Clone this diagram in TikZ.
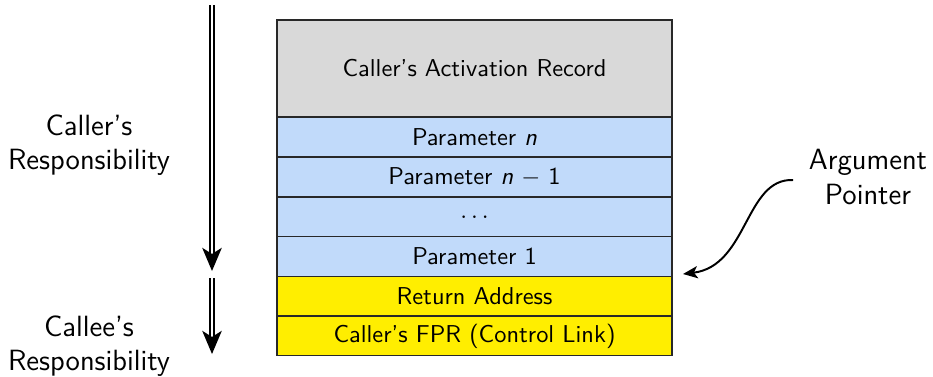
\documentclass[tikz,border=0pt]{standalone}
\usepackage{fontspec}
\usetikzlibrary{arrows.meta}
\definecolor{recgray}{RGB}{217,217,217}
\definecolor{parblue}{RGB}{193,218,250}
\definecolor{retyellow}{RGB}{255,238,0}
\definecolor{edgegray}{RGB}{40,40,40}
\tikzset{
  cell/.style={draw=edgegray, line width=0.45pt, rectangle, inner sep=0pt, outer sep=0pt,
    minimum width=395*0.41pt, minimum height=39.7*0.41pt, font=\sffamily},
  bluecell/.style={cell, fill=parblue},
  yellowcell/.style={cell, fill=retyellow},
  sidelabel/.style={align=center, font=\sffamily\large, inner sep=0pt},
  resparrow/.style={draw, double, double distance=1.1pt, line width=0.7pt,
    -{Stealth[length=9.5pt, width=8pt, inset=2.5pt]}},
}
\begin{document}
\begin{tikzpicture}[x=0.41pt, y=-0.41pt]
\useasboundingbox (0,0) rectangle (933,376);
% stack
\node[cell, fill=recgray, minimum height=97*0.41pt] (rec) at (474.5,68.5) {Caller's Activation Record};
\node[bluecell] (pn) at (474.5,137) {Parameter \textit{n}};
\node[bluecell] (pn1) at (474.5,177) {Parameter \textit{n} $-$ 1};
\node[bluecell] (pdots) at (474.5,217) {$\ldots$};
\node[bluecell] (p1) at (474.5,256.5) {Parameter 1};
\node[yellowcell] (ret) at (474.5,296) {Return Address};
\node[yellowcell] (fpr) at (474.5,336) {Caller's FPR (Control Link)};
% arrows on the left
\coordinate (a1s) at (212,5);
\coordinate (a1e) at (212,271);
\coordinate (a2s) at (212,278);
\coordinate (a2e) at (212,354);
\draw[resparrow] (a1s) -- (a1e);
\draw[resparrow] (a2s) -- (a2e);
% labels
\node[sidelabel] (caller) at (89,145) {Caller's\\Responsibility};
\node[sidelabel] (callee) at (89,346) {Callee's\\Responsibility};
\node[sidelabel] (argp) at (868,177) {Argument\\Pointer};
% argument pointer arrow
\coordinate (apstart) at (793,180);
\coordinate (apend) at (683,274);
\draw[line width=0.8pt, -{Stealth[length=6pt, width=5pt, inset=1.5pt]}]
  (apstart) .. controls (745,178) and (748,266) .. (apend);
\end{tikzpicture}
\end{document}
